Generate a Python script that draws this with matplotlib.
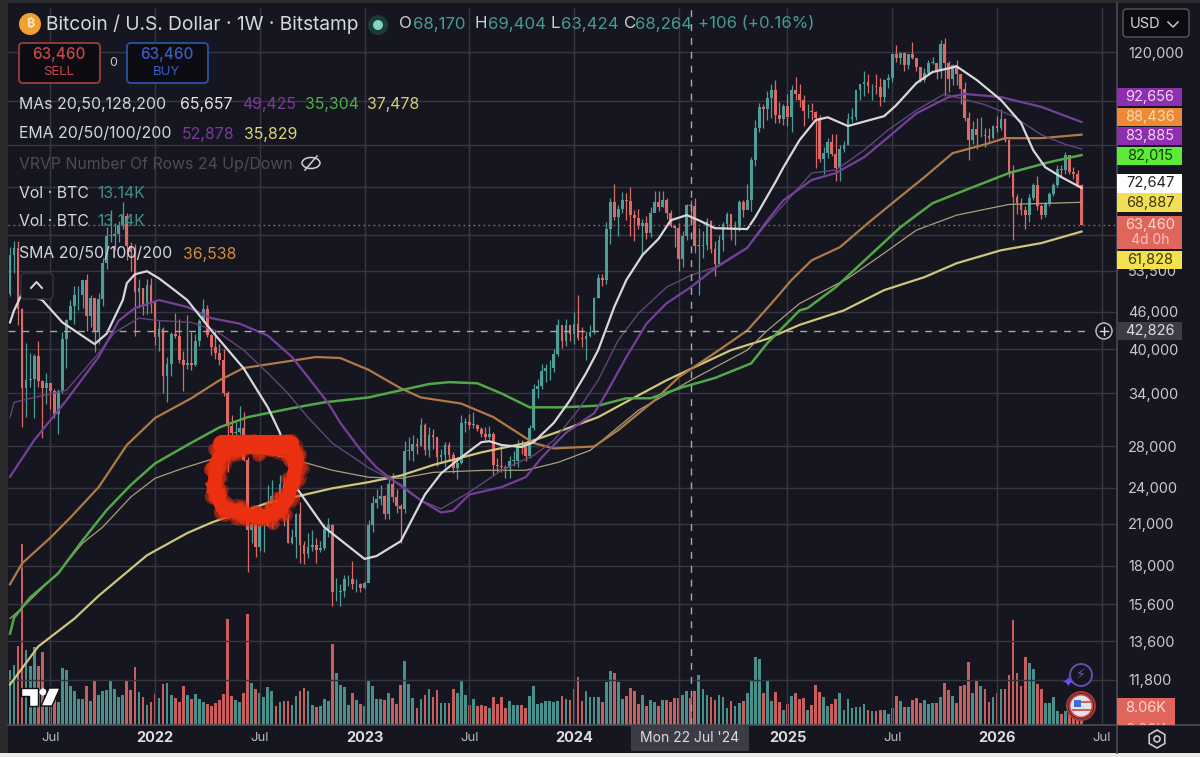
import numpy as np
import matplotlib
matplotlib.use("Agg")
import matplotlib.pyplot as plt
from matplotlib.patches import Rectangle, FancyBboxPatch, Circle, Polygon, RegularPolygon
from matplotlib.ticker import NullFormatter, NullLocator

plt.rcParams['font.family'] = ['Inter', 'DejaVu Sans']

# weekly candles, first week = 2021-04-19; week index 0 = 2022-01-03
first_open = 56150
close_2021 = [49100,56600,58250,46450,34700,35700,35800,39000,35600,34700,35300,34260,31530,34300,41500,44600,47000,48900,48900,51700,45200,48300,42700,48200,54950,60850,60900,61300,63300,65500,58700,57300,49400,50100,46900,50800,47700]
high_2021 = [57000,58450,59600,59600,46600,40900,39500,39400,41300,35700,36600,35100,34600,34500,42600,44800,48100,50500,50500,51000,52900,48850,47300,49200,56100,62900,67000,63700,64300,69000,66300,59500,59100,51900,50200,51900,52100]
low_2021 = [47000,48800,53000,43800,30000,31200,34800,31000,34800,28800,32700,32100,31000,29300,34000,37300,44600,43900,46300,46700,42800,43400,39600,40750,46900,53900,59500,57800,59400,62300,55600,53500,42000,46700,45500,45600,45700]

close_2022 = [41900,43100,36300,37900,42400,42100,38400,37700,38000,37800,41300,44500,46400,42200,40400,39500,38500,34000,30100,29400,29500,29900,26600,20550,21000,19300,20800,20800,22600,23300,23200,24300,21500,19600,20000,21800,19400,18800,19300,19400,19100,19200,20600,20900,16300,16300,16400,17100,17100,16800,16800,16600]
high_2022 = [47500,44400,43500,38900,42600,45800,44700,39800,45400,42600,42400,44800,48200,47200,42400,43000,40800,40000,34300,31400,30600,32400,31700,26900,21900,21500,22400,21600,24200,24700,23500,25200,25000,21800,20600,21900,22800,19700,20300,20500,19900,19700,21000,21500,21000,17200,16800,17400,17400,18300,17100,16900]
low_2022 = [40600,39700,34000,32900,36200,41800,38000,34300,37200,37100,37600,40500,44200,41900,39200,38600,37700,33700,25400,28700,28000,29300,26500,17600,19600,18600,19000,18900,20800,20700,22400,22700,20800,19600,19500,18500,18200,18100,18500,19000,18200,18900,19100,20000,15500,15800,15500,16000,16700,16500,16300,16300]

close_2023 = [16900,20900,22700,23000,23300,21800,24300,23200,22400,22200,27500,27500,28200,28000,30300,27600,29200,28900,26900,27100,28100,27100,25800,26300,30500,30600,30300,30300,29800,29300,29000,29300,26100,26000,25900,25800,26500,26500,28000,27900,27000,29900,34500,35000,37000,37300,37400,39400,43800,41300,43700,42300]
high_2023 = [17000,21300,23300,23900,24200,23400,25200,25300,23900,22600,28500,28900,29200,28800,31000,30500,30000,29800,29000,27700,28400,28400,27400,26800,31400,31000,31500,31800,30400,30000,30000,30200,29500,26800,28100,26100,27000,27500,28600,28600,28000,30300,35200,35900,37900,37900,38400,40000,44700,43400,44700,43800]
low_2023 = [16500,17100,20400,22300,22500,21400,21400,22800,21900,19600,21900,26600,26500,27200,28000,27100,26900,27700,26000,26400,25900,26500,25300,24800,26200,29500,29800,29900,29600,28900,28600,28700,25200,25400,25400,24900,24900,26000,25900,27200,26500,26800,29700,33400,34500,35500,35700,36800,39000,40200,40500,41300]

close_2024 = [43900,41700,41600,42000,42600,48300,52100,51700,62400,68900,65300,67200,69600,69300,65700,64900,63100,63900,61500,66300,69000,67700,69600,66200,63200,62700,55900,60800,68100,67900,58700,58700,58900,64200,58000,54900,60000,63600,65900,62100,62800,69000,67000,69400,80400,90600,97900,97200,101300,104400,95100,93700,98300]
high_2024 = [45900,49000,43500,42800,43800,48500,52800,52900,64000,70100,73800,68100,71500,71400,72800,66900,67200,64700,65500,67700,71900,71900,71900,70100,66900,63300,63800,61900,68400,69400,70000,62700,62000,65000,64500,59800,61000,64000,66500,65600,64400,69500,69500,73600,81500,93500,99500,98900,104000,106500,108300,99800,99000]
low_2024 = [40800,41400,40300,38500,41900,42300,48300,50600,50900,59000,64500,60800,66300,64500,60800,59600,62400,56500,60200,60700,66400,66600,67600,64800,62800,58400,53500,54300,59900,63500,57200,49000,56000,57800,57200,52500,54600,57500,62600,59900,58900,62000,65200,67500,66800,78800,89400,90800,93500,94200,92200,92500,91500]

close_2025 = [94500,104400,102600,100600,96500,96500,96300,94200,80700,82600,86100,82400,78300,83800,85100,93800,94300,104200,106500,107300,105700,105700,105500,101500,108400,109200,119100,117300,119400,114200,119300,117400,113500,108300,111100,115300,115300,112100,123500,115100,108700,114500,110500,104700,94100,86800,90400,88200,88400,88000,87500,91400]
high_2025 = [102700,106400,109500,106500,102500,98900,99500,96500,95000,84600,87500,88700,88500,85000,86500,95700,97500,104400,106700,112000,110700,106800,110500,109000,108500,110500,119500,123000,120200,119800,119300,124400,117600,113500,113300,116700,117900,113400,125500,126200,115900,115000,116400,110800,107400,96000,93100,94000,94500,90500,90500,91500]
low_2025 = [91200,89200,100700,97800,91200,94000,93300,78200,80000,76600,81100,81600,74600,74500,83000,85000,92800,93400,100700,102000,103100,100400,102700,98200,99600,105100,107500,115700,114700,112000,112700,116800,111700,107300,107300,110800,114700,108600,109200,102000,103500,106100,106300,98900,93000,80500,85300,83800,87600,84400,86400,87000]

close_2026 = [90500,93600,86700,77000,70200,68800,66900,65700,70000,73500,68000,65800,68500,71000,73500,78000,77500,82000,77100,76500,73500,63460]
high_2026 = [94700,97400,93900,87000,79000,71000,70000,68000,71000,74000,76000,68500,69000,71500,74000,79000,79000,82800,82000,78500,77500,73800]
low_2026 = [89300,90000,86000,75500,60000,66000,65800,62500,64000,69500,67000,64800,65200,68000,70500,73000,75500,76500,76500,75000,72800,63300]

volume_k = [25,26.2,28.4,37.3,86,35.6,28,37,27.9,34.8,13,12,14,11,27.1,26.1,18.3,15.9,12.2,12.2,18.6,11.3,21.5,14.1,16.2,16.5,20.7,17.3,13.4,14.1,21.1,16.4,27.5,15.7,13.3,9.7,10.9,
 14.6,13,19.4,19.8,14.1,12.6,11,18.3,14.1,12.2,14.6,12.2,11,10,8.9,10.2,11.8,14.6,50.5,13.8,11.8,10.9,15.4,52.7,19.9,17,15.4,13.4,18.1,16.2,9.2,10.9,11.3,11.2,9.7,13.8,16.2,17.7,16.2,9.7,8.4,9.2,12.2,11.3,38.4,24.8,19.1,17.8,9.7,15.4,11.8,10,
 8.9,21.5,18.6,12.2,12.5,11.8,15.1,13,10,19,30.5,19.4,13,8.1,12.5,14.1,17.3,13.4,16.4,10.5,10.2,10.2,17,15.4,21.1,14.4,9.7,12.2,8.9,9.4,8.9,8.1,13.4,10,13.4,8.1,11.3,9.6,9.7,9.6,8.1,13.8,18.6,10,10.2,11.3,11.3,11,11.3,13.8,12.2,11.7,17.3,22.7,11.5,16.2,13.3,13.3,13.3,
 10.9,20.6,25.4,24.6,20.3,12.5,13.8,17.7,16.2,10,14.1,9.2,11.8,10.9,9.2,11.8,11.8,10.9,12.6,12.6,14.1,16,13,16,23.8,17.3,14.3,13.4,11.8,14.4,13.4,8.1,11.2,9.2,10.2,11.3,15.1,20.9,32.1,31.3,15.1,21.5,11.3,15.7,10.9,7.3,
 10,13.8,15.4,12.5,12.6,7,9.4,19.1,15.7,13.3,8.9,10,12.2,15.4,7,12.2,7.9,8.3,8.4,10,7,6.8,6.5,7.3,7.3,5.2,8.1,13.8,11.5,8.6,8.3,11.8,13,10.2,11.8,10,10.5,10.5,13.1,19.8,16.4,13.8,10.2,18.6,19,30,15.4,21.4,18.6,17,11,13.3,
 15.4,17.3,17.3,23.5,49.7,24.8,18.3,32.1,29.5,26.4,19.6,17,10.5,10.5,13.3,6.6,5.3,6.5,6.5,8,9,8.06]

# moving averages: week index, price
sma20_wk = [-36,-35,-33,-28,-23,-15,-12,-8,-7,-5,-2,1,5,8,14,22,28,31,35,42,52,55,61,67,71,75,81,83,86,91,94,99,103,107,110,114,117,121,125,128,132,135,139,147,149,154,156,160,164,167,172,181,184,189,193,199,204,210,215,218,221,225,230]
sma20_px = [44200,46200,49200,48000,44200,40800,42400,48000,51100,52800,53400,52000,49700,48000,42900,37300,32300,29400,24050,20750,18450,18650,19700,23400,25300,26550,28400,28500,28100,27900,28400,30500,33150,36650,39900,46800,51700,56700,60200,64450,65700,64450,62600,62400,65200,74200,78400,86700,93300,94300,91300,94700,98600,107000,111450,113800,108200,100500,92300,83500,78400,75600,72647]

sma50_wk = [-36,-30,-22,-14,-9,-5,1,8,14,21,28,34,38,43,46,51,55,59,66,71,74,78,86,92,96,102,109,112,117,122,127,133,139,147,152,156,163,169,176,182,189,197,201,210,220,230]
sma50_px = [25000,28600,33150,38900,44500,46600,48000,46800,44900,44000,42100,38900,36100,32800,30500,27600,25850,24700,22900,21900,22050,23400,24050,24950,26850,29400,31600,34000,38900,44000,47450,50350,54000,58200,64400,69400,74800,76750,81350,87600,95700,101600,102800,101600,98000,92656]

ema50_wk = [-36,-35,-30,-22,-14,-10,-4,1,9,15,22,28,33,38,44,53,58,61,66,71,78,86,94,99,105,110,115,120,127,133,139,147,152,163,169,176,182,189,196,199,206,213,220,226,230]
ema50_px = [31100,32900,33500,34400,39450,42600,44900,44500,44200,42900,39900,36650,34000,31100,28300,25850,24850,24300,22900,22200,23600,25600,27050,28600,31950,35700,41400,45700,50350,52600,54200,58300,63800,76750,77600,83500,90000,96800,102800,101500,98800,94700,88400,85300,83885]

orange_wk = [-36,-33,-26,-21,-14,-7,0,9,16,22,32,40,46,53,61,66,76,84,89,94,99,109,115,124,130,140,147,153,158,163,170,177,183,191,198,206,211,220,230]
orange_px = [16800,18150,19950,21500,24050,28100,31050,33400,35700,37350,38200,38900,38750,37100,34650,33500,32750,31150,29700,28300,27750,27950,29700,33150,36100,39900,42900,47400,51700,55600,58350,63800,68650,75600,82600,85300,87300,87300,88436]

green_wk = [-36,-35,-31,-24,-18,-12,-6,0,8,16,23,34,42,53,61,68,73,80,86,93,101,110,117,123,131,139,148,152,160,162,169,177,185,193,201,212,222,230]
green_px = [14000,14850,16000,17500,19750,22100,24250,26250,28100,30000,31150,32200,32900,33500,34400,35200,35450,35300,34000,32300,32300,32500,33400,33400,34800,36000,38000,40950,46200,46600,50350,56250,62800,68650,72000,76750,79900,82015]

pale_wk = [-36,-33,-24,-18,-13,-6,0,7,14,24,31,38,44,53,61,69,82,92,100,108,112,120,133,147,152,160,172,181,189,199,212,230]
pale_px = [14800,15400,17550,19550,20750,23200,24850,25800,26650,27550,26950,26250,25600,24950,24850,25400,25600,25600,26350,27550,28950,31950,35700,39900,42900,47400,52000,57100,62150,65700,68350,68887]

yellow_wk = [-36,-29,-20,-14,-2,8,14,28,36,44,53,61,69,81,92,100,110,119,127,135,143,152,160,171,181,191,199,210,220,230]
yellow_px = [11600,13350,14800,16100,18700,20300,21100,22700,23300,23950,24500,25100,26100,27350,28300,29500,31150,33500,35700,37750,39900,41600,43800,46200,49800,52250,55000,57700,59250,61828]

grid_prices = [120000,100000,85000,73000,61000,53500,46000,40000,34000,28000,24000,21000,18000,15600,13600,11800]
price_labels = ['120,000','','','','','53,500','46,000','40,000','34,000','28,000','24,000','21,000','18,000','15,600','13,600','11,800']
time_ticks = [-26,0,26,52,78,104,130,157,183,209,235]
time_labels = ['Jul','2022','Jul','2023','Jul','2024','Jul','2025','Jul','2026','Jul']

close = np.array(close_2021+close_2022+close_2023+close_2024+close_2025+close_2026, float)
high = np.array(high_2021+high_2022+high_2023+high_2024+high_2025+high_2026, float)
low = np.array(low_2021+low_2022+low_2023+low_2024+low_2025+low_2026, float)
opn = np.r_[first_open, close[:-1]]
volume = np.array(volume_k, float)
assert len(close) == len(high) == len(low) == len(volume), (len(close), len(high), len(low), len(volume))
week = np.arange(len(close)) - 37

BG = '#15161f'; UP = '#4f9d98'; DOWN = '#de6a68'; GRID = '#353640'; TXT = '#d4d6dc'; TEAL = '#4a9a94'
W, H = 1200, 757
fig = plt.figure(figsize=(12, 7.57), dpi=100, facecolor=BG)
L, R, T, B = 8, 1117, 8, 725
rect = [L/W, 1-B/H, (R-L)/W, (B-T)/H]

axv = fig.add_axes(rect, facecolor=BG, zorder=1)
ax = fig.add_axes(rect, facecolor='none', zorder=2)
for a in (ax, axv):
    a.set_xlim(-36.5, 238.8)
    for s in a.spines.values():
        s.set_visible(False)

up = close >= opn
axv.set_ylim(0, 340)
axv.bar(week, volume, width=0.68, color=np.where(up, '#47908c', '#c85f5e'))
axv.set_xticks([]); axv.set_yticks([])

ax.set_yscale('log')
ax.set_ylim(9990, 141200)
ax.yaxis.set_minor_locator(NullLocator()); ax.yaxis.set_minor_formatter(NullFormatter())
ax.yaxis.tick_right()
ax.set_yticks(grid_prices); ax.set_yticklabels(price_labels)
ax.tick_params(axis='y', length=0, pad=8, labelsize=10.5, labelcolor='#c9cad0')
for t in ax.get_yticklabels():
    t.set_ha('left')
ax.set_xticks(time_ticks); ax.set_xticklabels([])
ax.tick_params(axis='x', length=0)
ax.grid(True, color=GRID, lw=1.0, zorder=0)
ax.set_axisbelow(True)

colors = np.where(up, UP, DOWN)
ax.vlines(week, low, high, colors=colors, lw=0.9, zorder=3)
ax.bar(week, np.maximum(np.abs(close-opn), close*0.002), bottom=np.minimum(opn, close), width=0.68, color=colors, zorder=3)

ax.plot(yellow_wk, yellow_px, color='#cfc67a', lw=1.6, zorder=4)
ax.plot(pale_wk, pale_px, color='#a8a07a', lw=0.9, zorder=4)
ax.plot(orange_wk, orange_px, color='#b07a48', lw=1.6, zorder=4)
ax.plot(green_wk, green_px, color='#52a848', lw=1.8, zorder=4)
ax.plot(ema50_wk, ema50_px, color='#62457a', lw=1.0, zorder=4)
ax.plot(sma50_wk, sma50_px, color='#74409a', lw=1.6, zorder=4)
ax.plot(sma20_wk, sma20_px, color='#d8d8dc', lw=1.6, zorder=5)

ax.axhline(42826, color='#a8a8ac', lw=1, dashes=(5, 5), zorder=6, xmax=(1090-L)/(R-L))
ax.axvline(133, color='#a8a8ac', lw=1, dashes=(5, 5), zorder=6)
ax.axhline(63460, color='#a8605c', lw=1, dashes=(1.2, 2.4), zorder=6)

# interface layer in pixel units
ui = fig.add_axes([0, 0, 1, 1], facecolor='none', zorder=10)
ui.set_xlim(0, W); ui.set_ylim(H, 0); ui.axis('off')

def txt(x, y, s, color=TXT, size=11.4, ha='left', weight='normal', **k):
    return ui.text(x, y, s, color=color, fontsize=size, ha=ha, va='center', fontweight=weight, **k)

# frame
ui.add_patch(Rectangle((0, 0), L, H, color='#2b2b2e', lw=0))
ui.add_patch(Rectangle((0, 0), W, 3, color='#2b2b2e', lw=0))
ui.add_patch(Rectangle((0, 753), W, 4, color='#e9e9ea', lw=0))
ui.plot([R, R], [3, 753], color='#4a4b55', lw=1.2)
ui.plot([L, W], [725, 725], color='#4a4b55', lw=1.2)

# red scribble with a ragged edge
sx = np.array([214,217,224,236,257,277,292,296,292,285,276,262,240,222,214], float)
sy = np.array([487,462,450,448,447,449,446,465,485,502,512,518,513,507,487], float)
tt = np.linspace(0, len(sx)-1, 260)
rx = np.interp(tt, np.arange(len(sx)), sx) + 5*np.sin(tt*7.3) + 2.5*np.sin(tt*23.1)
ry = np.interp(tt, np.arange(len(sy)), sy) + 5*np.cos(tt*5.9) + 2.5*np.sin(tt*19.7)
ui.scatter(rx, ry, s=90, color='#ea3010', alpha=0.35, lw=0, zorder=3)
ui.plot(sx, sy, color='#ea3010', lw=10, solid_joinstyle='round', zorder=3)
ui.plot([222,290], [444,444], color='#ea3010', lw=13, solid_capstyle='round', zorder=3)

# header
ui.add_patch(Circle((30, 24), 11, color='#f0a030', lw=0))
txt(30, 24, '₿', color='#fbe6c0', size=9, ha='center', weight='bold')
txt(46, 24, 'Bitcoin / U.S. Dollar · 1W · Bitstamp', size=13.8, color='#d6d8de')
ui.add_patch(Circle((378, 25), 10, color='#1c3a3a', lw=0))
ui.add_patch(Circle((378, 25), 5, color='#7fd6c4', lw=0))
for x, s, c in [(399,'O','#cfd1d6'),(413,'68,170',TEAL),(475,'H','#cfd1d6'),(488,'69,404',TEAL),(551,'L','#cfd1d6'),(561,'63,424',TEAL),(624,'C','#cfd1d6'),(635,'68,264',TEAL),(698,'+106 (+0.16%)',TEAL)]:
    txt(x, 24, s, color=c, size=12.1)

for x0, c, lab, tc in [(19,'#9c3c3c','SELL','#c9474a'),(127,'#2f4fa8','BUY','#3a5cc4')]:
    ui.add_patch(FancyBboxPatch((x0+3, 46), 75, 34, boxstyle='round,pad=3,rounding_size=4', fc='#0c0c12', ec=c, lw=1.3))
    txt(x0+40, 55, '63,460', color=tc, size=11, ha='center', weight='medium')
    txt(x0+40, 72, lab, color=tc, size=9.5, ha='center')
txt(113, 63, '0', color='#c8c8cc', size=9, ha='center')

txt(19, 105, 'MAs 20,50,128,200'); txt(180, 105, '65,657', color='#e4e4e8')
txt(242, 105, '49,425', color='#7d3a9a'); txt(305, 105, '35,304', color='#4fae45'); txt(367, 105, '37,478', color='#d9cf6c')
txt(19, 134, 'EMA 20/50/100/200'); txt(182, 134, '52,878', color='#7d3a9a'); txt(244, 134, '35,829', color='#e0d56e')
txt(19, 164, 'VRVP Number Of Rows 24 Up/Down', color='#4b4c56')
ui.add_patch(matplotlib.patches.Ellipse((311, 163), 18, 11, fc='none', ec='#d0d0d4', lw=1.1))
ui.plot([305, 317], [170, 156], color='#d0d0d4', lw=1.1)
txt(19, 193, 'Vol · BTC'); txt(97, 193, '13.14K', color='#3f8f8a')
txt(19, 222, 'Vol · BTC'); txt(97, 222, '13.14K', color='#3f8f8a')
txt(19, 254, 'SMA 20/50/100/200'); txt(183, 254, '36,538', color='#d88a3c')
ui.add_patch(FancyBboxPatch((22, 274), 30, 24, boxstyle='round,pad=1,rounding_size=4', fc=BG, ec='#33343e', lw=1))
ui.plot([31, 36.5, 42], [288, 282, 288], color='#d8d8dc', lw=1.4)

# USD box
ui.add_patch(FancyBboxPatch((1124, 10), 64, 26, boxstyle='round,pad=1,rounding_size=4', fc='#0c0c10', ec='#55565e', lw=1))
txt(1130, 24, 'USD', size=10.5, color='#d8d8dc')
ui.plot([1168, 1173, 1178], [22, 27, 22], color='#c8c8cc', lw=1.1)

# price tags
tags = [(88,106,'#8f2fb0','92,656','#f0d8f4'),(108,126,'#ee8a35','88,436','#fbdcae'),(127,145,'#8f2fb0','83,885','#f0d8f4'),
        (147,165,'#5eea38','82,015','#143808'),(174,193,'#ffffff','72,647','#222222'),(193,212,'#f2df55','68,887','#3c3608'),
        (251,269,'#f5e04e','61,828','#3c3608')]
for y0, y1, c, s, tc in tags:
    ui.add_patch(Rectangle((1117, y0), 65, y1-y0, fc=c, ec='none', zorder=4))
    ui.text(1150, (y0+y1)/2, s, color=tc, fontsize=10.5, ha='center', va='center', zorder=5)
ui.add_patch(Rectangle((1117, 216), 65, 33, fc='#e0665c', ec='none', zorder=4))
ui.text(1150, 225, '63,460', color='#fbd8d4', fontsize=10.5, ha='center', va='center', zorder=5)
ui.text(1150, 240, '4d 0h', color='#f7c2bc', fontsize=10, ha='center', va='center', zorder=5)

ui.add_patch(Rectangle((1117, 322), 65, 18, fc='#3b3c46', ec='none', zorder=4))
ui.text(1150, 331, '42,826', color='#dcdce0', fontsize=10.5, ha='center', va='center', zorder=5)
ui.add_patch(Circle((1104, 331), 8, fc=BG, ec='#c8c8cc', lw=1, zorder=5))
ui.plot([1100, 1108], [331, 331], color='#d8d8dc', lw=1, zorder=6)
ui.plot([1104, 1104], [327, 335], color='#d8d8dc', lw=1, zorder=6)

# volume tag
vol_tag = Rectangle((1117, 698), 58, 27, fc='#e0665c', ec='none', zorder=4)
ui.add_patch(vol_tag)
ui.text(1146, 708, '8.06K', color='#fbd8d4', fontsize=10.5, ha='center', va='center', zorder=5)
t2 = ui.text(1146, 730, '8.06K', color='#f7c2bc', fontsize=10.5, ha='center', va='center', zorder=5)
t2.set_clip_path(vol_tag); t2.set_clip_on(True)

# time axis
for w, s in zip(time_ticks, time_labels):
    x = 155 + 4.029*w
    bold = s != 'Jul'
    if w == 130:
        continue
    txt(x, 738, s, ha='center', size=10.5 if bold else 9.5, weight='bold' if bold else 'normal', color='#dcdce0' if bold else '#b8bac0')
ui.add_patch(Rectangle((631, 725), 118, 26, fc='#3b3c46', ec='none', zorder=4))
ui.text(690, 738, "Mon 22 Jul '24", color='#dcdce0', fontsize=10, ha='center', va='center', zorder=5)
ui.add_patch(RegularPolygon((1157, 739), 6, radius=9, fc='none', ec='#c8c8cc', lw=1.2))
ui.add_patch(Circle((1157, 739), 3, fc='none', ec='#c8c8cc', lw=1.2))

# logo and icons
ui.add_patch(Polygon([(21,688),(38,688),(38,706),(29,706),(29,696),(21,696)], fc='white', ec='#101014', lw=1))
ui.add_patch(Circle((43, 692), 3.5, fc='white', ec='none'))
ui.add_patch(Polygon([(49,688),(60,688),(52,706),(41,706)], fc='white', ec='#101014', lw=1))
ui.add_patch(Circle((1081, 675), 11, fc=BG, ec='#6a4bb0', lw=1.4))
txt(1081, 675, '⚡', color='#7a50d0', size=10, ha='center', family=['DejaVu Sans'])
txt(1068, 682, '✦', color='#6a52f0', size=11, ha='center', family=['DejaVu Sans'])
ui.add_patch(Circle((1081, 706), 14, fc=BG, ec='#a63c3a', lw=1.4))
ui.add_patch(Circle((1081, 706), 11.5, fc='#e0e4ea', ec='#c8403c', lw=1.4))
ui.add_patch(Rectangle((1074, 700), 7, 7, fc='#3f6fd0', ec='none'))
ui.plot([1082, 1090], [702, 702], color='#d05050', lw=1.3)
ui.plot([1073, 1090], [710, 710], color='#d05050', lw=1.3)

fig.savefig('out.png', dpi=100, facecolor=BG)
